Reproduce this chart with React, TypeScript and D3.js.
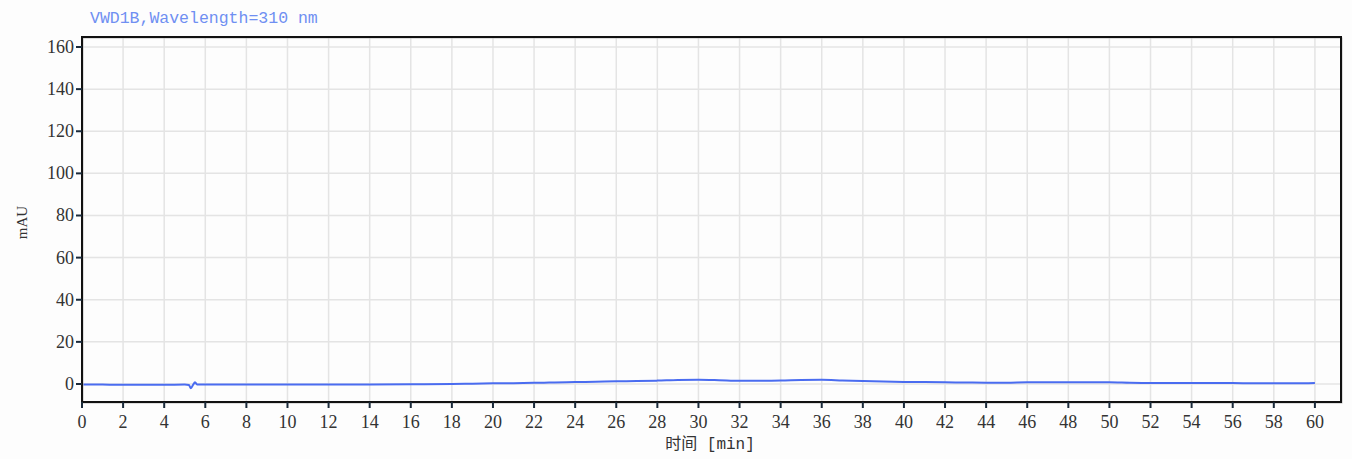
import React from "react";
import * as d3 from "d3";

// chromatogram trace
const times = [0, 1, 2, 3, 4, 5, 5.2, 5.3, 5.4, 5.5, 5.6, 6, 8, 10, 12, 14, 16, 18, 19, 20, 21, 22, 23, 24, 25, 26, 27, 28, 29, 30, 31, 32, 33, 34, 35, 36, 37, 38, 39, 40, 41, 42, 43, 44, 45, 46, 48, 50, 51, 52, 54, 56, 57, 58, 59, 60];
const signal = [-0.2, -0.3, -0.4, -0.4, -0.4, -0.3, -0.5, -2.0, -0.5, 0.8, -0.2, -0.3, -0.3, -0.3, -0.3, -0.2, -0.1, 0, 0.1, 0.3, 0.4, 0.6, 0.7, 0.9, 1.1, 1.3, 1.4, 1.6, 1.9, 2.0, 1.8, 1.5, 1.5, 1.6, 1.9, 2.0, 1.7, 1.4, 1.2, 1.0, 0.9, 0.8, 0.7, 0.6, 0.6, 0.8, 0.8, 0.8, 0.6, 0.5, 0.5, 0.5, 0.3, 0.3, 0.3, 0.5];

const xTicks = [0, 2, 4, 6, 8, 10, 12, 14, 16, 18, 20, 22, 24, 26, 28, 30, 32, 34, 36, 38, 40, 42, 44, 46, 48, 50, 52, 54, 56, 58, 60];
const yTicks = [0, 20, 40, 60, 80, 100, 120, 140, 160];

const title = "VWD1B,Wavelength=310 nm";
const xLabel = "时间 [min]";
const yLabel = "mAU";

const W = 1352;
const H = 459;
const left = 82;
const right = 1341;
const top = 37;
const bottom = 402;

const App: React.FC = () => {
  const x = d3.scaleLinear().domain([0, 61.27]).range([left, right]);
  const y = d3.scaleLinear().domain([-8.55, 164.75]).range([bottom, top]);

  const pts: [number, number][] = times.map((t, i) => [t, signal[i]]);
  const line = d3
    .line<[number, number]>()
    .x(d => x(d[0]))
    .y(d => y(d[1]))
    .curve(d3.curveMonotoneX);

  const tickFont = "'Liberation Serif', 'DejaVu Serif', serif";

  return (
    <svg
      width={W}
      height={H}
      style={{ position: "absolute", left: 0, top: 0, background: "#fdfdfd" }}
    >
      <text x={90} y={23} fontFamily="'Liberation Mono', monospace" fontSize={16.5} fill="#6f8ff2">
        {title}
      </text>

      <rect x={left} y={top} width={right - left} height={bottom - top} fill="#fdfdfd" />

      {/* grid */}
      {xTicks.filter(t => t > 0).map(t => (
        <line key={"gx" + t} x1={x(t)} x2={x(t)} y1={top} y2={bottom} stroke="#e4e4e4" strokeWidth={1.5} />
      ))}
      {yTicks.map(t => (
        <line key={"gy" + t} x1={left} x2={right} y1={y(t)} y2={y(t)} stroke="#e4e4e4" strokeWidth={1.5} />
      ))}

      {/* trace */}
      <path d={line(pts) ?? ""} fill="none" stroke="#4a6cf0" strokeWidth={2} />

      {/* frame */}
      <rect x={left + 1} y={top + 1} width={right - left} height={bottom - top} fill="none" stroke="#bbb" strokeWidth={1} />
      <rect x={left} y={top} width={right - left} height={bottom - top} fill="none" stroke="#111" strokeWidth={2} />

      {/* x axis ticks */}
      {xTicks.map(t => (
        <g key={"tx" + t}>
          <line x1={x(t)} x2={x(t)} y1={bottom} y2={bottom + 6} stroke="#1a2a3a" strokeWidth={2} />
          <text x={x(t)} y={428} textAnchor="middle" fontFamily={tickFont} fontSize={18} fill="#333">
            {t}
          </text>
        </g>
      ))}

      {/* y axis ticks */}
      {yTicks.map(t => (
        <g key={"ty" + t}>
          <line x1={left - 6} x2={left} y1={y(t)} y2={y(t)} stroke="#1a2a3a" strokeWidth={2} />
          <text x={left - 8} y={y(t) + 6} textAnchor="end" fontFamily={tickFont} fontSize={18} fill="#333">
            {t}
          </text>
        </g>
      ))}

      <text
        x={710}
        y={449}
        textAnchor="middle"
        fontFamily="'Liberation Mono', 'Noto Sans CJK SC', monospace"
        fontSize={16}
        fill="#333"
      >
        {xLabel}
      </text>
      <text
        transform={`translate(27, ${(top + bottom) / 2 + 3}) rotate(-90)`}
        textAnchor="middle"
        fontFamily={tickFont}
        fontSize={15}
        fill="#333"
      >
        {yLabel}
      </text>
    </svg>
  );
};

export default App;
